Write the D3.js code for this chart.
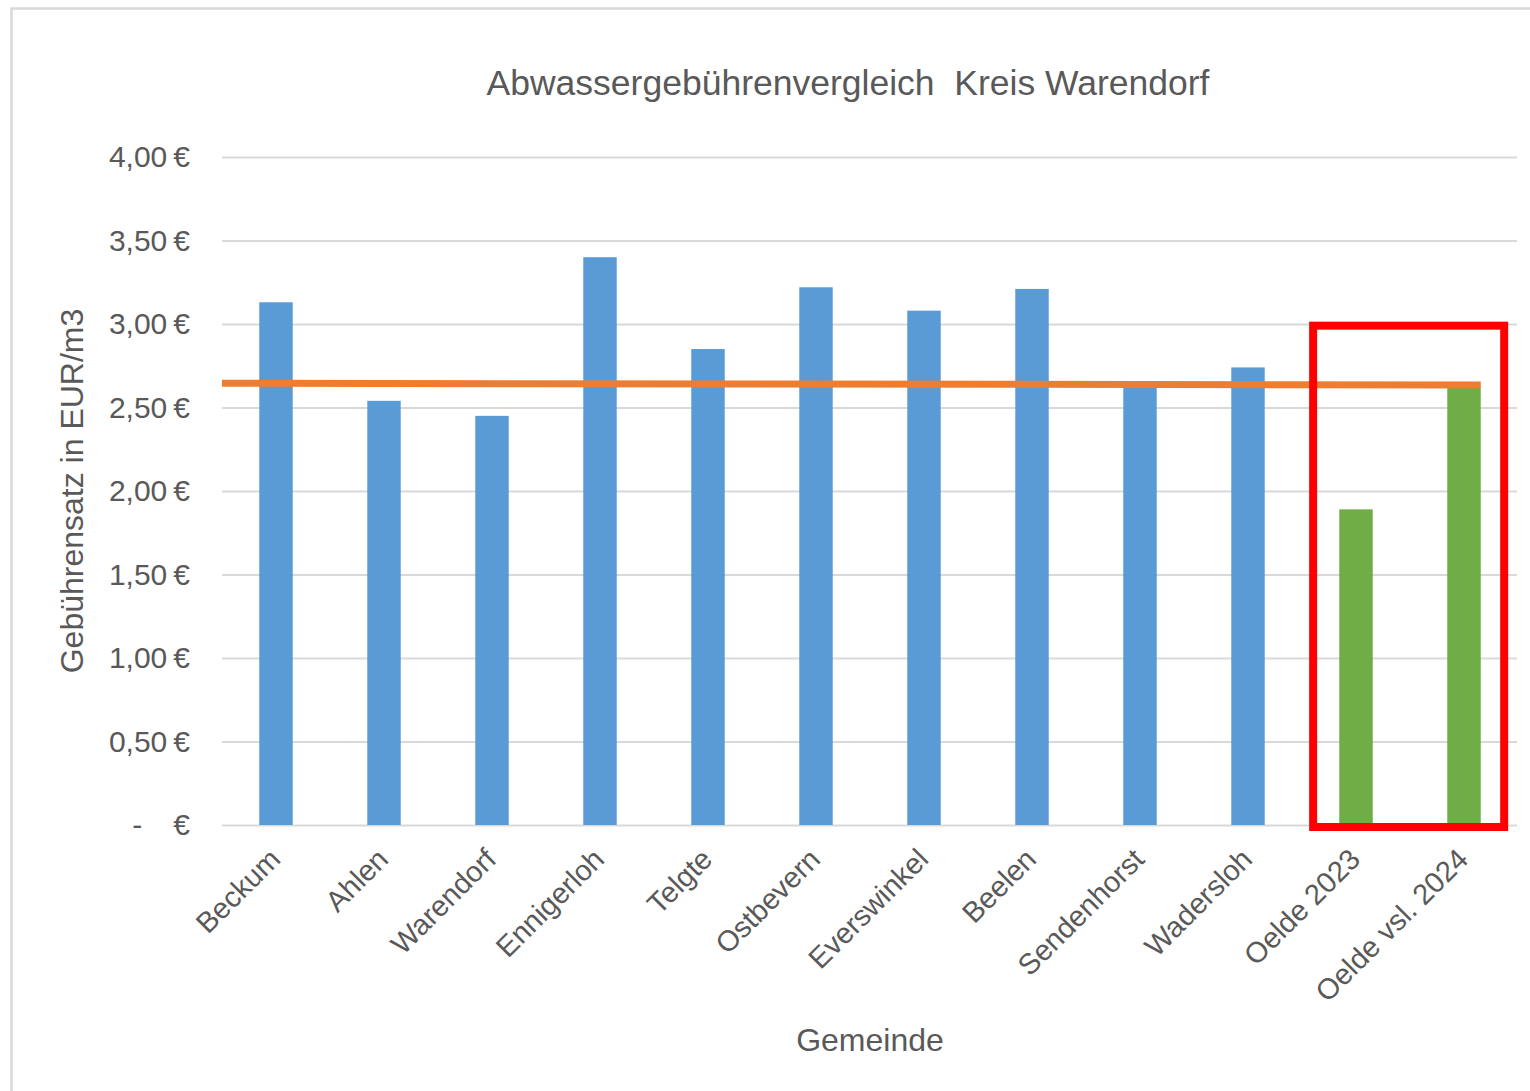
<!DOCTYPE html>
<html>
<head>
<meta charset="utf-8">
<script src="https://cdn.jsdelivr.net/npm/d3@7"></script>
<style>
  body { margin: 0; background: #fff; }
  svg { display: block; font-family: "Liberation Sans", Arial, sans-serif; }
</style>
</head>
<body>
<div id="chart"></div>
<script>
// data
var gemeinden = ["Beckum", "Ahlen", "Warendorf", "Ennigerloh", "Telgte", "Ostbevern",
                 "Everswinkel", "Beelen", "Sendenhorst", "Wadersloh", "Oelde 2023", "Oelde vsl. 2024"];
var gebuehren = [3.13, 2.54, 2.45, 3.40, 2.85, 3.22, 3.08, 3.21, 2.62, 2.74, 1.89, 2.62];
var oelde = ["Oelde 2023", "Oelde vsl. 2024"];
var durchschnitt = [2.645, 2.635];   // orange line, start / end
var yTicks = [0, 0.5, 1, 1.5, 2, 2.5, 3, 3.5, 4];
var boxTop = 2.99;

var W = 1530, H = 1091;
var margin = {top: 157, right: 12, bottom: 266, left: 222};

var svg = d3.select("#chart").append("svg")
    .attr("width", W)
    .attr("height", H);

// chart border
svg.append("rect")
    .attr("x", 11.5).attr("y", 8.5)
    .attr("width", W + 20).attr("height", H + 20)
    .attr("fill", "none")
    .attr("stroke", "#d9d9d9")
    .attr("stroke-width", 2.5);

var x = d3.scaleBand()
    .domain(gemeinden)
    .range([margin.left, W - margin.right])
    .paddingInner(0.69)
    .paddingOuter(0.345);

var y = d3.scaleLinear()
    .domain([0, 4])
    .range([H - margin.bottom, margin.top]);

var fmt = function(d) {
    if (d === 0) return "-\u00a0\u00a0\u00a0\u2009€";
    return d.toFixed(2).replace(".", ",") + "\u2009€";
};

// gridlines + y labels
var yAxis = svg.append("g")
    .attr("transform", "translate(" + margin.left + ",0)")
    .call(d3.axisLeft(y)
        .tickValues(yTicks)
        .tickSize(-(W - margin.right - margin.left - 1))
        .tickPadding(32)
        .tickFormat(fmt));
yAxis.select(".domain").remove();
yAxis.selectAll(".tick line")
    .attr("stroke", "#d9d9d9")
    .attr("stroke-width", 2);
yAxis.selectAll(".tick text")
    .attr("fill", "#595959")
    .style("font-size", "30px");

// bars
svg.append("g").selectAll("rect")
    .data(gemeinden)
    .join("rect")
    .attr("x", function(d) { return x(d); })
    .attr("y", function(d, i) { return y(gebuehren[i]); })
    .attr("width", x.bandwidth())
    .attr("height", function(d, i) { return y(0) - y(gebuehren[i]); })
    .attr("fill", function(d) { return oelde.indexOf(d) >= 0 ? "#70ad47" : "#5b9bd5"; });

// orange line
var lastCat = gemeinden[gemeinden.length - 1];
svg.append("line")
    .attr("x1", x.range()[0])
    .attr("x2", x(lastCat) + x.bandwidth())
    .attr("y1", y(durchschnitt[0]))
    .attr("y2", y(durchschnitt[1]))
    .attr("stroke", "#ed7d31")
    .attr("stroke-width", 7);

// red box around Oelde
var bx0 = x(oelde[0]) - x.bandwidth() * 0.78;
var bx1 = x(oelde[1]) + x.bandwidth() * 1.7;
svg.append("rect")
    .attr("x", bx0)
    .attr("y", y(boxTop))
    .attr("width", bx1 - bx0)
    .attr("height", y(0) - y(boxTop) + 2)
    .attr("fill", "none")
    .attr("stroke", "#ff0000")
    .attr("stroke-width", 8);

// x labels
svg.append("g").selectAll("text")
    .data(gemeinden)
    .join("text")
    .attr("transform", function(d) {
        return "translate(" + (x(d) + x.bandwidth() / 2 + 6) + "," + (y(0) + 36) + ") rotate(-45)";
    })
    .attr("text-anchor", "end")
    .attr("fill", "#595959")
    .style("font-size", "29px")
    .text(function(d) { return d; });

// titles
svg.append("text")
    .attr("x", 848).attr("y", 95)
    .attr("text-anchor", "middle")
    .attr("fill", "#595959")
    .style("font-size", "35.5px")
    .style("white-space", "pre")
    .text("Abwassergebührenvergleich  Kreis Warendorf");

svg.append("text")
    .attr("transform", "translate(83," + ((margin.top + H - margin.bottom) / 2) + ") rotate(-90)")
    .attr("text-anchor", "middle")
    .attr("fill", "#595959")
    .style("font-size", "32px")
    .text("Gebührensatz in EUR/m3");

svg.append("text")
    .attr("x", (margin.left + W - margin.right) / 2)
    .attr("y", 1051)
    .attr("text-anchor", "middle")
    .attr("fill", "#595959")
    .style("font-size", "32px")
    .text("Gemeinde");
</script>
</body>
</html>
